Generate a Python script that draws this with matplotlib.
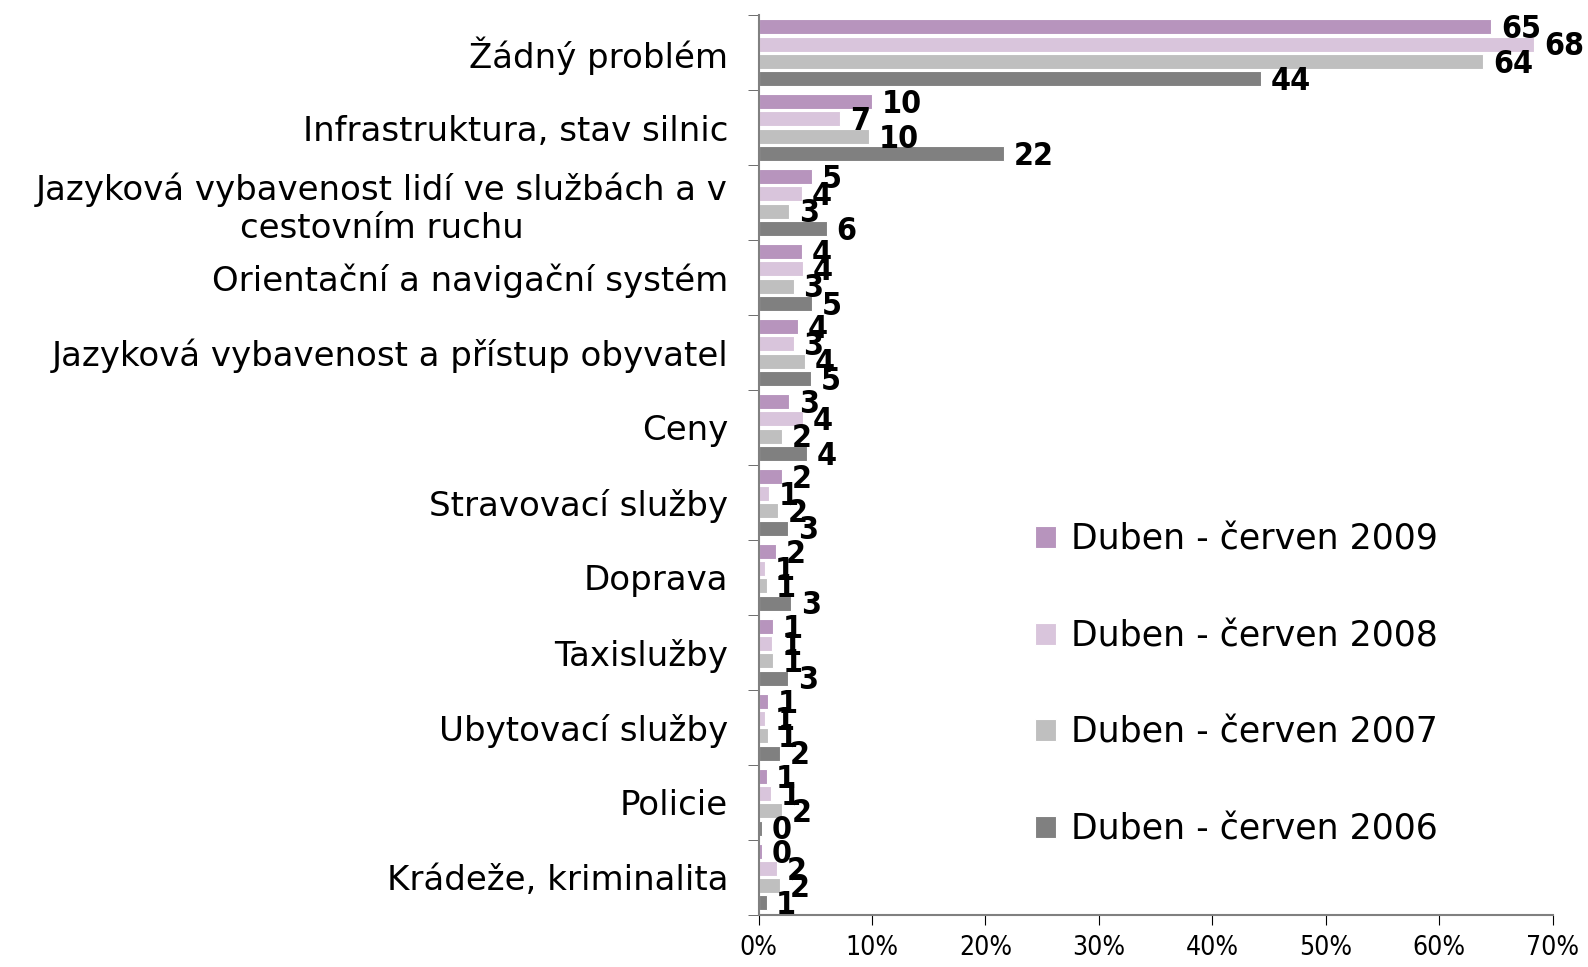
import matplotlib.pyplot as plt
import numpy as np
from matplotlib.ticker import PercentFormatter

categories = [
    "Žádný problém",
    "Infrastruktura, stav silnic",
    "Jazyková vybavenost lidí ve službách a v\ncestovním ruchu",
    "Orientační a navigační systém",
    "Jazyková vybavenost a přístup obyvatel",
    "Ceny",
    "Stravovací služby",
    "Doprava",
    "Taxislužby",
    "Ubytovací služby",
    "Policie",
    "Krádeže, kriminalita",
]
series = ["Duben - červen 2009", "Duben - červen 2008",
          "Duben - červen 2007", "Duben - červen 2006"]
v2009 = [64.6, 10.0, 4.7, 3.8, 3.5, 2.7, 2.1, 1.55, 1.3, 0.8, 0.7, 0.3]
v2008 = [68.4, 7.2, 3.8, 3.9, 3.1, 3.9, 0.9, 0.6, 1.2, 0.6, 1.1, 1.6]
v2007 = [63.9, 9.7, 2.7, 3.1, 4.1, 2.1, 1.7, 0.7, 1.3, 0.8, 2.1, 1.9]
v2006 = [44.3, 21.6, 6.0, 4.7, 4.6, 4.3, 2.6, 2.9, 2.6, 1.9, 0.3, 0.7]
values = [v2009, v2008, v2007, v2006]
colors = ["#B794BD", "#D9C5DC", "#BFBFBF", "#808080"]

fig = plt.figure(figsize=(15.88, 9.67), dpi=100)
ax = fig.add_axes([0.4777, 0.0542, 0.5, 0.9301])

y = np.arange(len(categories))
step = 0.23
h = 0.2
for i, (name, vals, col) in enumerate(zip(series, values, colors)):
    pos = y - 1.5 * step + i * step
    ax.barh(pos, vals, height=h, color=col, edgecolor="white", linewidth=0.8, label=name)
    for p, v in zip(pos, vals):
        ax.annotate(f"{v:.0f}", (v, p), xytext=(7, -2), textcoords="offset points",
                    ha="left", va="center", fontsize=23, fontweight="bold",
                    fontstretch="condensed")

ax.set_ylim(len(categories) - 0.5, -0.5)
ax.set_xlim(0, 70)
ax.set_xticks(range(0, 71, 10))
ax.xaxis.set_major_formatter(PercentFormatter(decimals=0))
for lab in ax.get_xticklabels():
    lab.set_fontstretch("condensed")
    lab.set_fontsize(19)
ax.tick_params(axis="x", direction="out", length=7, color="black", pad=8)

ax.set_yticks(y)
ax.set_yticklabels(categories, fontsize=24.5, multialignment="center")
ax.set_yticks(np.arange(-0.5, len(categories), 1), minor=True)
ax.tick_params(axis="y", which="major", length=0, pad=22)
ax.tick_params(axis="y", which="minor", direction="out", length=8, color="#555555")

for s in ["top", "right"]:
    ax.spines[s].set_visible(False)
ax.spines["left"].set_color("#808080")
ax.spines["bottom"].set_color("#808080")
ax.spines["left"].set_linewidth(1.5)
ax.spines["bottom"].set_linewidth(1.5)

ax.legend(loc="center left", bbox_to_anchor=(0.348, 0.256), frameon=False, fontsize=25,
          borderaxespad=0, borderpad=0,
          handlelength=0.6, handleheight=0.6, handletextpad=0.45, labelspacing=1.8)

plt.savefig("out.png", dpi=100)
